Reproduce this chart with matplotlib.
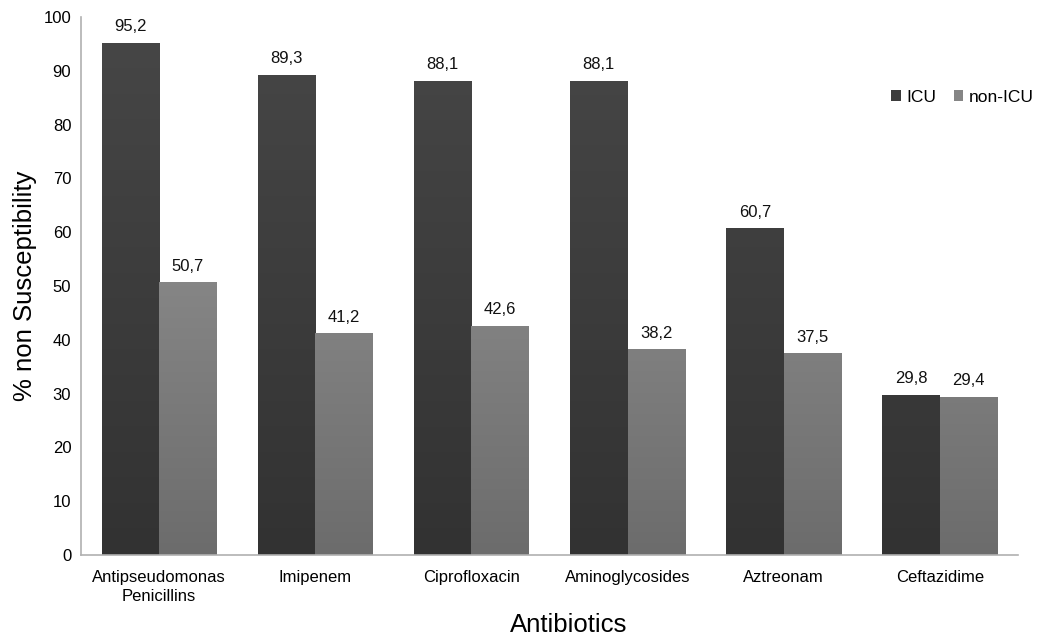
import numpy as np
import matplotlib.pyplot as plt
from matplotlib.colors import LinearSegmentedColormap
from matplotlib.patches import Patch

plt.rcParams['font.family'] = ['Liberation Sans', 'DejaVu Sans']

# data
categories = ["Antipseudomonas\nPenicillins", "Imipenem", "Ciprofloxacin",
              "Aminoglycosides", "Aztreonam", "Ceftazidime"]
icu = [95.2, 89.3, 88.1, 88.1, 60.7, 29.8]
non_icu = [50.7, 41.2, 42.6, 38.2, 37.5, 29.4]

W, H = 1038, 637
fig = plt.figure(figsize=(W / 100, H / 100), dpi=100)
ax = fig.add_axes([81 / W, 1 - 555 / H, 937 / W, 538 / H])

x = np.arange(len(categories))
w = 0.368

# gradient colormaps (top light, bottom dark)
cm_icu = LinearSegmentedColormap.from_list("icu", ["#323232", "#474747"])
cm_non = LinearSegmentedColormap.from_list("non", ["#6c6c6c", "#9e9e9e"])
grad = np.linspace(0, 1, 256).reshape(-1, 1)


def grad_bars(xs, vals, cmap):
    bars = ax.bar(xs, vals, w, color='none', edgecolor='none', zorder=2)
    for b in bars:
        x0, y0 = b.get_x(), b.get_y()
        x1 = x0 + b.get_width()
        im = ax.imshow(grad, cmap=cmap, aspect='auto', origin='lower',
                       extent=[x0, x1, y0, 100], zorder=2)
        im.set_clip_path(b)
    return bars


grad_bars(x - w / 2, icu, cm_icu)
grad_bars(x + w / 2, non_icu, cm_non)

for xs, vals in [(x - w / 2, icu), (x + w / 2, non_icu)]:
    for xi, v in zip(xs, vals):
        ax.text(xi, v + 1.6, f"{v:.1f}".replace('.', ','), ha='center',
                va='bottom', fontsize=12, color='#111111')

ax.set_xlim(-0.5, len(categories) - 0.5)
ax.set_ylim(0, 100)
ax.set_yticks(range(0, 101, 10))
ax.set_xticks(x)
ax.set_xticklabels(categories, fontsize=12, linespacing=1.3)
ax.tick_params(axis='y', labelsize=12, length=0, pad=7)
ax.tick_params(axis='x', length=0, pad=11)

for s in ['top', 'right']:
    ax.spines[s].set_visible(False)
for s in ['left', 'bottom']:
    ax.spines[s].set_color('#b0b0b0')
    ax.spines[s].set_linewidth(1.2)

fig.text(25 / W, 1 - 286 / H, "% non Susceptibility", rotation=90,
         ha='center', va='center', fontsize=18.5)
fig.text(569 / W, 1 - 632 / H, "Antibiotics", ha='center', va='baseline',
         fontsize=18.5)

handles = [Patch(facecolor='#3c3c3c'), Patch(facecolor='#858585')]
ax.legend(handles, ["ICU", "non-ICU"], loc='center right',
          bbox_to_anchor=((1049 - 81) / 937, (555 - 97) / 538), ncol=2,
          frameon=False, fontsize=12.5, handlelength=0.55, handleheight=0.55,
          handletextpad=0.3, columnspacing=1.0)

fig.savefig("out.png", dpi=100)
